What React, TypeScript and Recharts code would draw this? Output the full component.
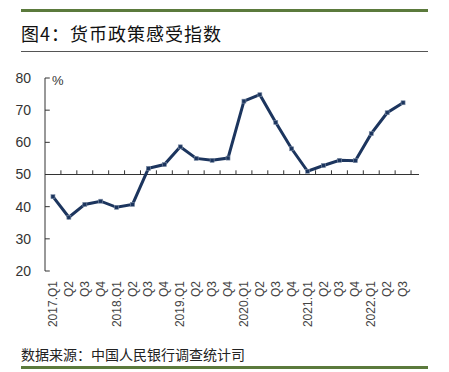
import React from 'react';
import { LineChart, Line, XAxis, YAxis, ReferenceLine } from 'recharts';

const categories = ['2017.Q1','Q2','Q3','Q4','2018.Q1','Q2','Q3','Q4','2019.Q1','Q2','Q3','Q4','2020.Q1','Q2','Q3','Q4','2021.Q1','Q2','Q3','Q4','2022.Q1','Q2','Q3'];
const values = [43.1,36.7,40.7,41.7,39.8,40.7,51.9,53.1,58.6,55.0,54.4,55.1,72.8,74.8,66.2,58.0,51.0,52.8,54.4,54.3,62.7,69.2,72.3];
const yTicks = [20,30,40,50,60,70,80];
const title = '图4：货币政策感受指数';
const source = '数据来源：中国人民银行调查统计司';

const data = categories.map((c, i) => ({ i, label: c, v: values[i] }));
const boundaries = categories.map((_, i) => i + 0.5);
const NAVY = '#1c355e';
const GREEN = '#5b7a3c';

const XTick = (props: any) => {
  const { x, y, payload } = props;
  return (
    <text x={x} y={y} transform={`rotate(-90, ${x}, ${y})`} textAnchor="end" dy={4}
      fontFamily="Liberation Sans, Arial, sans-serif" fontSize={12} fill="#444">
      {categories[payload.value]}
    </text>
  );
};

const Marker = (props: any) => {
  const { cx, cy } = props;
  if (cx == null || cy == null) return null;
  return <rect x={cx - 2} y={cy - 2} width={4} height={4} fill={NAVY} stroke="#8090a8" strokeWidth={0.6} />;
};

export default function App() {
  return (
    <div style={{ position: 'absolute', left: 0, top: 0, width: 449, height: 372, background: '#fff', overflow: 'hidden' }}>
      <div style={{ position: 'absolute', left: 21, top: 9, width: 407, height: 3, background: GREEN }} />
      <div style={{ position: 'absolute', left: 21, top: 22, fontFamily: 'Noto Sans CJK SC, sans-serif', fontSize: 18, lineHeight: '22px', color: '#111', whiteSpace: 'nowrap', letterSpacing: 1 }}>{title}</div>
      <div style={{ position: 'absolute', left: 21, top: 51, width: 407, height: 1, background: '#555' }} />
      <div style={{ position: 'absolute', left: 0, top: 60 }}>
        <LineChart width={449} height={281} data={data} margin={{ top: 18, right: 30, left: 0, bottom: 0 }}>
          <XAxis dataKey="i" type="number" domain={[-0.5, 22.5]} ticks={categories.map((_, i) => i)}
            interval={0} axisLine={false} tickLine={false} tick={<XTick />} height={70} tickMargin={4} allowDecimals={false} />
          <YAxis domain={[20, 80]} ticks={yTicks} width={45} interval={0}
            axisLine={{ stroke: '#333', strokeWidth: 1 }} tickLine={false} tickMargin={8}
            tick={{ fontFamily: 'Liberation Sans, Arial, sans-serif', fontSize: 14, fill: '#333' }}
            label={{ value: '%', position: 'insideTopLeft', offset: 0, dx: 52, dy: -2, fontFamily: 'Liberation Sans, Arial, sans-serif', fontSize: 13, fill: '#333' }} />
          {yTicks.map((t) => (
            <ReferenceLine key={'y' + t} segment={[{ x: -0.5, y: t }, { x: -0.2, y: t }]} stroke="#333" strokeWidth={1} ifOverflow="visible" />
          ))}
          <ReferenceLine y={50} stroke="#333" strokeWidth={1.2} ifOverflow="visible" />
          {boundaries.map((b) => (
            <ReferenceLine key={b} segment={[{ x: b, y: 50 }, { x: b, y: 51.3 }]} stroke="#333" strokeWidth={1} ifOverflow="visible" />
          ))}
          <Line type="linear" dataKey="v" stroke={NAVY} strokeWidth={3} dot={<Marker />} activeDot={false} isAnimationActive={false} />
        </LineChart>
      </div>
      <div style={{ position: 'absolute', left: 21, top: 345, fontFamily: 'Noto Sans CJK SC, sans-serif', fontSize: 14, lineHeight: '18px', color: '#222', whiteSpace: 'nowrap' }}>{source}</div>
      <div style={{ position: 'absolute', left: 21, top: 366, width: 407, height: 3, background: GREEN }} />
    </div>
  );
}
